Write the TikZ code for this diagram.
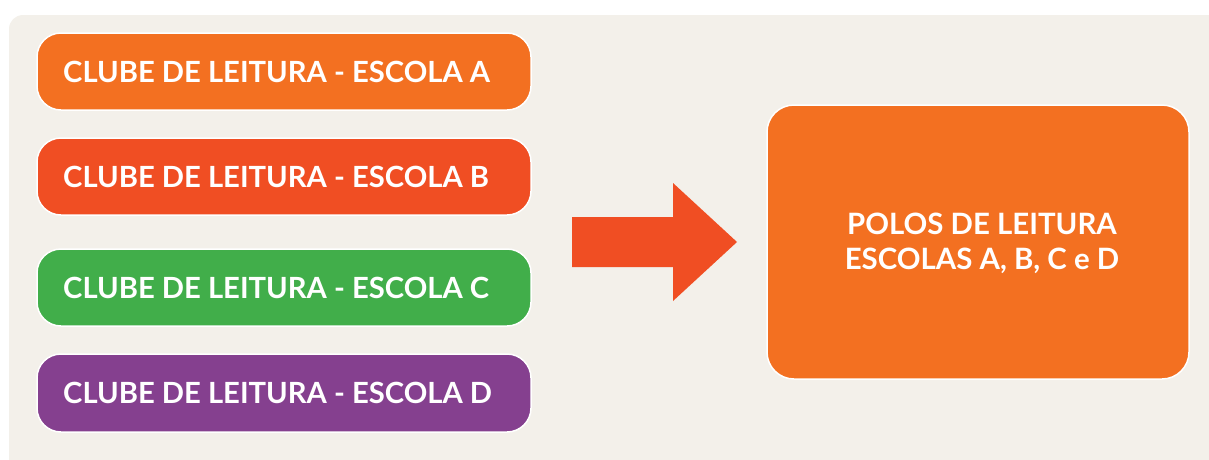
\documentclass[tikz,border=0pt]{standalone}
\usepackage{fontspec}
\setmainfont{Lato}
\definecolor{bgc}{HTML}{F3F0EA}
\definecolor{corA}{HTML}{F37021}
\definecolor{corB}{HTML}{F04E23}
\definecolor{corC}{HTML}{41AE4A}
\definecolor{corD}{HTML}{85408F}
\tikzset{
  clube/.style={draw=white, line width=1.5pt, rounded corners=24pt},
  lbl/.style={anchor=west, text=white, font=\fontsize{29.2}{33}\selectfont\bfseries, inner sep=0pt},
}
\begin{document}
\begin{tikzpicture}[x=1pt,y=-1pt]
\useasboundingbox (0,0) rectangle (1209,459);
\fill[bgc, rounded corners=14pt] (9,15) rectangle (1225,475);
% club boxes
\filldraw[clube, fill=corA] (37,33) rectangle (531,110);
\filldraw[clube, fill=corB] (37,138) rectangle (531,215);
\filldraw[clube, fill=corC] (37,249) rectangle (531,326);
\filldraw[clube, fill=corD] (37,354) rectangle (531,432);
\node[lbl] (a) at (63,71.5) {CLUBE DE LEITURA - ESCOLA A};
\node[lbl] (b) at (63,176.5) {CLUBE DE LEITURA - ESCOLA B};
\node[lbl] (c) at (63,287.5) {CLUBE DE LEITURA - ESCOLA C};
\node[lbl] (d) at (63,393) {CLUBE DE LEITURA - ESCOLA D};
% arrow
\fill[corB] (572,217) -- (673,217) -- (673,183) -- (737,242) -- (673,301) -- (673,267) -- (572,267) -- cycle;
% big box
\filldraw[draw=white, line width=1.5pt, rounded corners=27pt, fill=corA] (767,105) rectangle (1189,379);
\node[text=white, align=center, font=\fontsize{29.4}{35}\selectfont\bfseries, inner sep=0pt] (p) at (982,243) {POLOS DE LEITURA\\ESCOLAS A, B, C e D};
\end{tikzpicture}
\end{document}
